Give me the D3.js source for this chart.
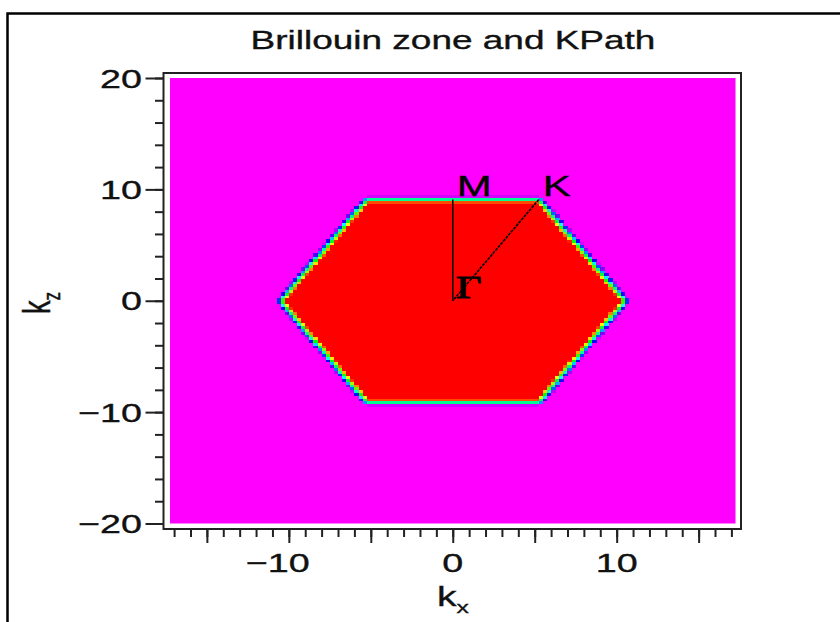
<!DOCTYPE html>
<html>
<head>
<meta charset="utf-8">
<script src="https://cdn.jsdelivr.net/npm/d3@7"></script>
<style>
  body { margin: 0; background: #fff; }
  svg { display: block; }
  text { font-family: "Liberation Sans", Arial, sans-serif; fill: #111; stroke: #111; stroke-width: 0.35px; }
</style>
</head>
<body>
<svg id="chart" width="840" height="622"></svg>
<script>
// Hexagonal Brillouin zone (corner points, kx / kz)
const bzX = [10.5, 5.25, -5.25, -10.5, -5.25, 5.25];
const bzY = [0, 9.09, 9.09, 0, -9.09, -9.09];

// High-symmetry points of the k-path
const kpathLabels = ["Γ", "M", "K"];
const kpathX = [0, 0, 5.25];
const kpathY = [0, 9.09, 9.09];
// Drawn path segments (indices into the k-path points)
const kpathSegments = [[0, 1], [2, 0]];

// Sampling grid and plotted window
const gridStep = 0.25;
const kxRange = [-17.25, 17.25];
const kzRange = [-20, 20];

// Axis ticks
const xTickLabels = [-10, 0, 10];
const xMajorTicks = [-15, -10, -5, 0, 5, 10, 15];
const xMinorTicks = d3.range(-17, 18, 1);
const yTickLabels = [-20, -10, 0, 10, 20];
const yMinorTicks = d3.range(-20, 21, 2);

const title = "Brillouin zone and KPath";
const stretch = 1.45;   // glyphs are drawn wide, like the plot itself

const svg = d3.select("#chart");
const x = d3.scaleLinear().domain(kxRange).range([170, 735.5]);
const y = d3.scaleLinear().domain(kzRange).range([523.5, 78]);

// outer page frame
svg.append("rect")
  .attr("x", 7.5).attr("y", 13.5).attr("width", 900).attr("height", 700)
  .attr("fill", "none").attr("stroke", "#000").attr("stroke-width", 2.5);

// ---- zone map: red inside, magenta outside, rainbow along the edge ----
const hex = bzX.map((v, i) => [v, bzY[i]]);
function segDist(px, py, a, b) {
  const dx = b[0] - a[0], dy = b[1] - a[1];
  let t = ((px - a[0]) * dx + (py - a[1]) * dy) / (dx * dx + dy * dy);
  t = Math.max(0, Math.min(1, t));
  const qx = a[0] + t * dx - px, qy = a[1] + t * dy - py;
  return Math.sqrt(qx * qx + qy * qy);
}
const nx = Math.round((kxRange[1] - kxRange[0]) / gridStep);
const ny = Math.round((kzRange[1] - kzRange[0]) / gridStep);
const cells = [];
for (let i = 0; i < nx; i++) {
  for (let j = 0; j < ny; j++) {
    const cx = kxRange[0] + (i + 0.5) * gridStep;
    const cy = kzRange[0] + (j + 0.5) * gridStep;
    let d = Infinity;
    for (let k = 0; k < hex.length; k++) d = Math.min(d, segDist(cx, cy, hex[k], hex[(k + 1) % hex.length]));
    const sd = d3.polygonContains(hex, [cx, cy]) ? -d : d;
    const v = Math.max(0, Math.min(1, 0.45 + sd / (2.2 * gridStep)));
    if (v < 0.999) cells.push({ x0: cx - gridStep / 2, y0: cy + gridStep / 2, v });
  }
}
const color = v => d3.hsl(300 * v, 1, 0.5).toString();

const plot = svg.append("g");
plot.append("rect")
  .attr("x", x(kxRange[0])).attr("y", y(kzRange[1]))
  .attr("width", x(kxRange[1]) - x(kxRange[0]))
  .attr("height", y(kzRange[0]) - y(kzRange[1]))
  .attr("fill", color(1));
const cw = x(gridStep) - x(0), ch = y(0) - y(gridStep);
plot.selectAll("rect.cell").data(cells).join("rect")
  .attr("class", "cell")
  .attr("x", d => x(d.x0)).attr("y", d => y(d.y0))
  .attr("width", cw + 0.4).attr("height", ch + 0.4)
  .attr("fill", d => color(d.v))
  .attr("shape-rendering", "crispEdges");

// ---- k-path ----
const kp = kpathX.map((v, i) => ({ x: v, y: kpathY[i], label: kpathLabels[i] }));
svg.append("g").selectAll("line").data(kpathSegments).join("line")
  .attr("x1", s => x(kp[s[0]].x)).attr("y1", s => y(kp[s[0]].y))
  .attr("x2", s => x(kp[s[1]].x)).attr("y2", s => y(kp[s[1]].y))
  .attr("stroke", "#000").attr("stroke-width", (s, i) => i === 0 ? 1.5 : 1.6)
  .attr("stroke-dasharray", (s, i) => i === 0 ? null : "3,1");

svg.append("g").selectAll("text").data(kp).join("text")
  .attr("transform", d => d.label === "Γ"
    ? `translate(${x(d.x) + 3},${y(d.y) - 3}) scale(${stretch},1)`
    : `translate(${x(d.x) + 4},${y(d.y) - 4}) scale(${stretch},1)`)
  .style("font-family", d => d.label === "Γ" ? '"Liberation Serif", "Times New Roman", serif' : null)
  .style("font-size", d => d.label === "Γ" ? "31px" : "29px")
  .style("fill", "#000").style("stroke", "#000")
  .style("stroke-width", d => d.label === "Γ" ? "0.8px" : "0.35px")
  .text(d => d.label);

// ---- axes frame and ticks ----
const frame = { left: 163.5, right: 741, top: 73, bottom: 529 };
svg.append("rect")
  .attr("x", frame.left).attr("y", frame.top)
  .attr("width", frame.right - frame.left).attr("height", frame.bottom - frame.top)
  .attr("fill", "none").attr("stroke", "#222").attr("stroke-width", 2);

function tickAxis(axis, transform) {
  const g = svg.append("g").attr("transform", transform).call(axis);
  g.select(".domain").remove();
  g.selectAll("text").remove();
  g.selectAll("line").attr("stroke", "#222").attr("stroke-width", 2);
  return g;
}
tickAxis(d3.axisBottom(x).tickValues(xMinorTicks).tickSize(8), `translate(0,${frame.bottom})`);
tickAxis(d3.axisBottom(x).tickValues(xMajorTicks).tickSize(14), `translate(0,${frame.bottom})`);
tickAxis(d3.axisLeft(y).tickValues(yMinorTicks).tickSize(8.5), `translate(${frame.left},0)`);
tickAxis(d3.axisLeft(y).tickValues(yTickLabels).tickSize(18), `translate(${frame.left},0)`);

const fmt = v => (v < 0 ? "\u2212" : "") + Math.abs(v);
const tfs = 26;
svg.append("g").selectAll("text").data(xTickLabels).join("text")
  .attr("text-anchor", "end")
  .attr("transform", v => {
    const half = String(Math.abs(v)).length * 0.556 * tfs * stretch / 2;
    return `translate(${x(v) + half},572) scale(${stretch},1)`;
  })
  .style("font-size", tfs + "px")
  .text(fmt);

svg.append("g").selectAll("text").data(yTickLabels).join("text")
  .attr("text-anchor", "end")
  .attr("transform", v => `translate(142,${y(v) + 9.5}) scale(${stretch},1)`)
  .style("font-size", tfs + "px")
  .text(fmt);

// ---- title and axis titles ----
svg.append("text")
  .attr("text-anchor", "middle")
  .attr("transform", `translate(453,49) scale(${stretch},1)`)
  .style("font-size", "25.5px")
  .text(title);

const xt = svg.append("text")
  .attr("text-anchor", "middle")
  .attr("transform", `translate(453,606) scale(${stretch},1)`)
  .style("font-size", "27px");
xt.append("tspan").text("k");
xt.append("tspan").attr("dy", 7).style("font-size", "17px").text("x");

const yt = svg.append("text")
  .attr("text-anchor", "middle")
  .attr("transform", `translate(50,303) scale(${stretch},1) rotate(-90)`)
  .style("font-size", "27px");
yt.append("tspan").text("k");
yt.append("tspan").attr("dy", 7).style("font-size", "17px").text("z");
</script>
</body>
</html>
